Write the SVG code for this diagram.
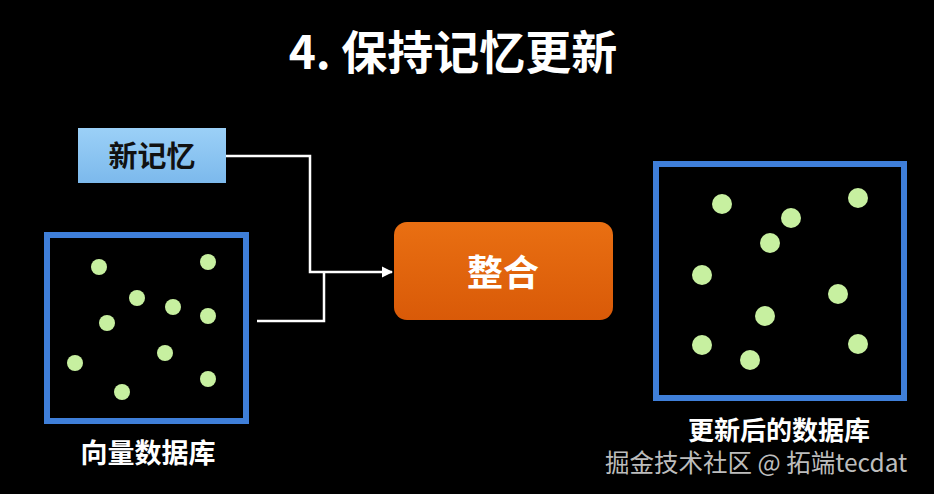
<svg xmlns="http://www.w3.org/2000/svg" width="934" height="494" viewBox="0 0 934 494">
<defs>
<style>
.t{font-family:"Noto Sans CJK SC","Noto Sans",sans-serif;font-weight:bold;text-anchor:middle}
.db{fill:#000;stroke:#3f7fd9;stroke-width:6}
.dot{fill:#c7f0a0}
.ln{fill:none;stroke:#fff;stroke-width:2.5}
</style>
<linearGradient id="gb" x1="0" y1="0" x2="0" y2="1"><stop offset="0" stop-color="#9bd0f7"/><stop offset="1" stop-color="#7cb9ec"/></linearGradient>
<linearGradient id="go" x1="0" y1="0" x2="0" y2="1"><stop offset="0" stop-color="#e96f12"/><stop offset="1" stop-color="#d95a08"/></linearGradient>
<marker id="ah" viewBox="0 0 10 10" refX="9" refY="5" markerWidth="4.5" markerHeight="4.5" orient="auto" markerUnits="strokeWidth"><path d="M0,0 L10,5 L0,10 z" fill="#fff"/></marker>
</defs>
<rect width="934" height="494" fill="#000"/>
<text class="t" x="453" y="69" font-size="46" fill="#fff">4. 保持记忆更新</text>
<g id="connectors">
<polyline class="ln" points="226,156 310,156 310,272 392,272" marker-end="url(#ah)"/>
<polyline class="ln" points="257,321 324,321 324,272"/>
</g>
<g id="new-memory">
<rect x="78" y="128" width="148" height="55" fill="url(#gb)"/>
<text class="t" x="152" y="167" font-size="29" fill="#111">新记忆</text>
</g>
<g id="vector-db">
<rect class="db" x="47" y="235" width="199" height="186"/>
<circle class="dot" cx="99" cy="267" r="8"/>
<circle class="dot" cx="208" cy="262" r="8"/>
<circle class="dot" cx="137" cy="298" r="8"/>
<circle class="dot" cx="173" cy="307" r="8"/>
<circle class="dot" cx="107" cy="323" r="8"/>
<circle class="dot" cx="208" cy="316" r="8"/>
<circle class="dot" cx="75" cy="363" r="8"/>
<circle class="dot" cx="165" cy="353" r="8"/>
<circle class="dot" cx="208" cy="379" r="8"/>
<circle class="dot" cx="122" cy="392" r="8"/>
<text class="t" x="148" y="463" font-size="27" fill="#fff">向量数据库</text>
</g>
<g id="merge">
<rect x="394" y="222" width="219" height="98" rx="13" fill="url(#go)"/>
<text class="t" x="503" y="286" font-size="36" fill="#fff">整合</text>
</g>
<g id="updated-db">
<rect class="db" x="656" y="164" width="248" height="234"/>
<circle class="dot" cx="722" cy="204" r="10"/>
<circle class="dot" cx="858" cy="198" r="10"/>
<circle class="dot" cx="791" cy="218" r="10"/>
<circle class="dot" cx="770" cy="243" r="10"/>
<circle class="dot" cx="702" cy="275" r="10"/>
<circle class="dot" cx="838" cy="294" r="10"/>
<circle class="dot" cx="765" cy="316" r="10"/>
<circle class="dot" cx="702" cy="345" r="10"/>
<circle class="dot" cx="858" cy="344" r="10"/>
<circle class="dot" cx="750" cy="360" r="10"/>
<text class="t" x="779" y="440" font-size="26" fill="#fff">更新后的数据库</text>
</g>
<text x="605" y="472" font-family="Noto Sans CJK SC,Noto Sans,sans-serif" font-size="24.5" fill="#bdbdbd">掘金技术社区 @ 拓端tecdat</text>
</svg>
